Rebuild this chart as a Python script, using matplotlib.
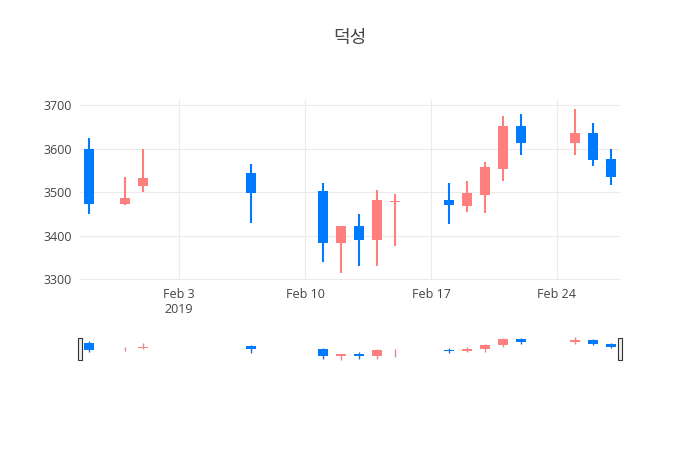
import matplotlib.pyplot as plt
import matplotlib.dates as mdates
import pandas as pd

# Daily OHLC
dates = ["2019-01-29", "2019-01-31", "2019-02-01", "2019-02-07", "2019-02-11",
         "2019-02-12", "2019-02-13", "2019-02-14", "2019-02-15", "2019-02-18",
         "2019-02-19", "2019-02-20", "2019-02-21", "2019-02-22", "2019-02-25",
         "2019-02-26", "2019-02-27"]
opens = [3598, 3473, 3514, 3543, 3502, 3384, 3422, 3389, 3478, 3482,
         3469, 3493, 3554, 3652, 3613, 3637, 3577]
highs = [3625, 3535, 3600, 3565, 3520, 3422, 3450, 3505, 3495, 3520,
         3525, 3570, 3675, 3680, 3690, 3660, 3600]
lows = [3450, 3471, 3500, 3430, 3340, 3315, 3330, 3330, 3375, 3426,
        3455, 3452, 3525, 3585, 3585, 3560, 3516]
closes = [3473, 3487, 3532, 3498, 3384, 3422, 3389, 3482, 3480, 3470,
          3497, 3557, 3652, 3613, 3637, 3573, 3534]
yticks = [3300, 3400, 3500, 3600, 3700]
xtick_dates = ["2019-02-03", "2019-02-10", "2019-02-17", "2019-02-24"]
xtick_labels = ["Feb 3\n2019", "Feb 10", "Feb 17", "Feb 24"]

UP = "#FF7F7F"
DOWN = "#007BFF"
plt.rcParams['font.family'] = ['Open Sans', 'Noto Sans CJK KR', 'DejaVu Sans']

x = mdates.date2num(pd.to_datetime(dates))
xlim = (mdates.date2num(pd.Timestamp("2019-01-28 12:00")),
        mdates.date2num(pd.Timestamp("2019-02-27 12:00")))


def draw_candles(ax, lw):
    for xi, o, h, l, c in zip(x, opens, highs, lows, closes):
        col = UP if c >= o else DOWN
        ax.plot([xi, xi], [l, h], color=col, lw=lw, solid_capstyle="butt", zorder=2)
        lo, hi = min(o, c), max(o, c)
        ax.bar(xi, max(hi - lo, 1.5), bottom=lo, width=0.6, color=col, zorder=3)


fig = plt.figure(figsize=(7, 4.5), dpi=100)
ax = fig.add_axes([0.1143, 0.378, 0.7714, 0.40])
draw_candles(ax, 1.5)
ax.set_xlim(*xlim)
ax.set_ylim(3298, 3712)
ax.set_yticks(yticks)
ax.set_xticks(mdates.date2num(pd.to_datetime(xtick_dates)))
ax.set_xticklabels(xtick_labels)
ax.grid(color="#EBEBEB", lw=0.8, zorder=0)
ax.set_axisbelow(True)
for s in ax.spines.values():
    s.set_visible(False)
ax.tick_params(length=0, labelsize=9, colors="#444444", pad=6)

fig.text(0.5, 0.905, "덕성", ha="center", fontsize=13, color="#444444")

# range slider
sl = fig.add_axes([0.1143, 0.196, 0.7714, 0.058])
draw_candles(sl, 1.0)
sl.set_xlim(*xlim)
sl.set_ylim(3290, 3712)
sl.set_xticks([])
sl.set_yticks([])
for s in sl.spines.values():
    s.set_visible(False)
for hx in xlim:
    sl.add_patch(plt.Rectangle((hx - 0.1, 3320), 0.2, 360, facecolor="#EEEEEE",
                               edgecolor="#333333", lw=0.8, clip_on=False, zorder=5))

fig.savefig("out.png", dpi=100)
